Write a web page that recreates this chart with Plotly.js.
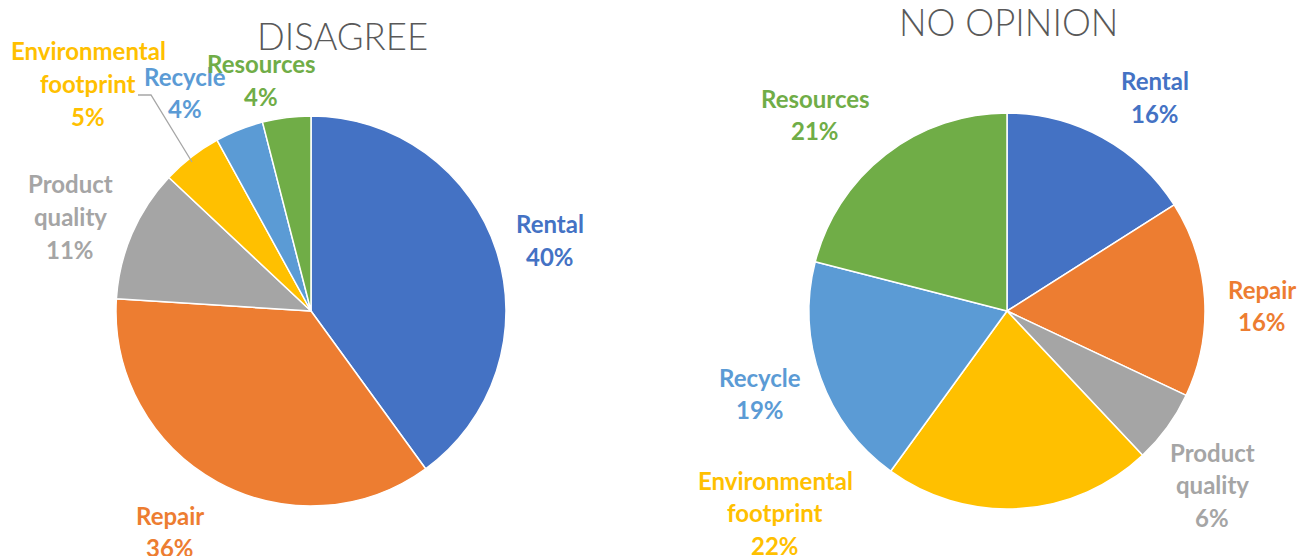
<!DOCTYPE html>
<html>
<head>
<meta charset="utf-8">
<script src="https://cdn.plot.ly/plotly-3.0.1.min.js"></script>
<style>html,body{margin:0;padding:0;background:#fff;}#chart{width:1310px;height:556px;}</style>
</head>
<body>
<div id="chart"></div>
<script>
// ---- data ----
const categories = ["Rental", "Repair", "Product quality", "Environmental footprint", "Recycle", "Resources"];
const disagreeValues = [40, 36, 11, 5, 4, 4];
const noOpinionValues = [16, 16, 6, 22, 19, 21];
const chartTitles = ["DISAGREE", "NO OPINION"];

// ---- styles ----
const colors = ["#4472C4", "#ED7D31", "#A5A5A5", "#FFC000", "#5B9BD5", "#70AD47"];
const W = 1310, H = 556;
// label block centres in pixels (first line centre), per chart, per category
const labelPos = [
  [[550, 224], [170, 515], [70, 184], [88, 51], [185, 76], [261, 64]],
  [[1155, 81], [1262, 289], [1212, 452], [775, 480], [760, 377], [815, 98]]
];
const lineGap = 32.5;
const titlePos = [[342, 36], [1008, 22]];

function px(x) { return x / W; }
function py(y) { return 1 - y / H; }

const pieGeom = [
  {cx: 311, cy: 311, r: 195},
  {cx: 1007, cy: 311, r: 198}
];

const valueSets = [disagreeValues, noOpinionValues];
const traces = valueSets.map((vals, i) => {
  const g = pieGeom[i];
  return {
    type: "pie",
    labels: categories,
    values: vals,
    sort: false,
    direction: "clockwise",
    rotation: 0,
    textinfo: "none",
    hoverinfo: "label+percent",
    marker: {colors: colors, line: {color: "#ffffff", width: 1.5}},
    domain: {
      x: [px(g.cx - g.r), px(g.cx + g.r)],
      y: [py(g.cy + g.r), py(g.cy - g.r)]
    },
    showlegend: false
  };
});

const annotations = [];
valueSets.forEach((vals, i) => {
  const total = vals.reduce((a, b) => a + b, 0);
  categories.forEach((cat, j) => {
    const words = cat.split(" ");
    const lines = words.concat([Math.round(vals[j] / total * 100) + "%"]);
    const [lx, ly] = labelPos[i][j];
    lines.forEach((t, k) => {
      annotations.push({
        xref: "paper", yref: "paper",
        x: px(lx), y: py(ly + k * lineGap),
        xanchor: "center", yanchor: "middle",
        text: t, showarrow: false,
        font: {family: "Lato, 'Open Sans', sans-serif", size: 24, color: colors[j], weight: 700}
      });
    });
  });
  annotations.push({
    xref: "paper", yref: "paper",
    x: px(titlePos[i][0]), y: py(titlePos[i][1]),
    xanchor: "center", yanchor: "middle",
    text: chartTitles[i], showarrow: false,
    font: {family: "Lato, 'Open Sans', sans-serif", size: 36.5, color: "#595959", weight: 300}
  });
});

const layout = {
  width: W, height: H,
  margin: {l: 0, r: 0, t: 0, b: 0},
  paper_bgcolor: "#ffffff",
  plot_bgcolor: "#ffffff",
  annotations: annotations,
  shapes: [{
    type: "path", xref: "paper", yref: "paper",
    path: "M " + px(138) + " " + py(95) + " L " + px(151) + " " + py(95) + " L " + px(192) + " " + py(162),
    line: {color: "#A6A6A6", width: 1.3}
  }]
};

Plotly.newPlot("chart", traces, layout, {staticPlot: true});
</script>
</body>
</html>
